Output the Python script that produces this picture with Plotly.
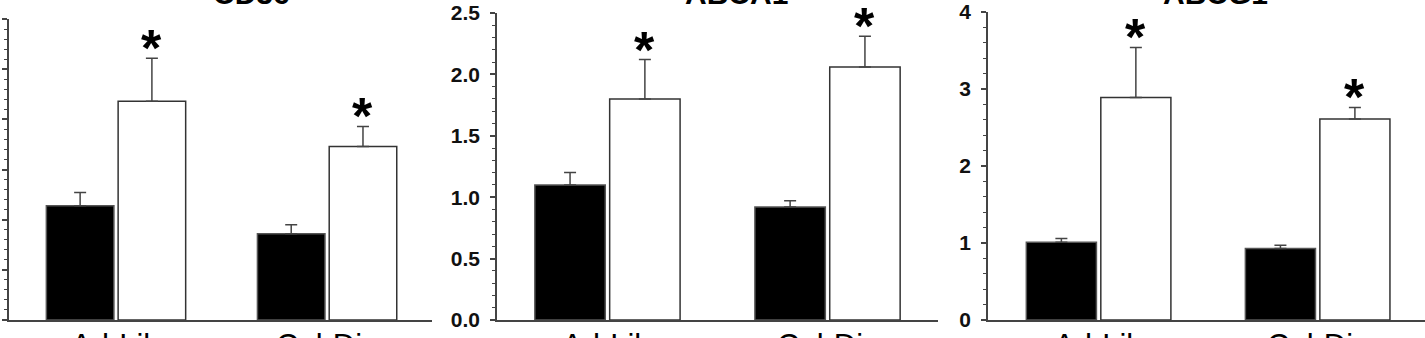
import plotly.graph_objects as go

# ---- data ----
groups = ["Ad-Lib", "Cal-Dis"]
titles = ["CD36", "ABCA1", "ABCG1"]

cd36_black = [1.14, 0.86]
cd36_black_err = [0.13, 0.09]
cd36_white = [2.18, 1.73]
cd36_white_err = [0.43, 0.20]

abca1_black = [1.10, 0.92]
abca1_black_err = [0.10, 0.05]
abca1_white = [1.80, 2.06]
abca1_white_err = [0.32, 0.25]

abcg1_black = [1.01, 0.93]
abcg1_black_err = [0.05, 0.04]
abcg1_white = [2.89, 2.61]
abcg1_white_err = [0.65, 0.15]

significant_white = [[True, True], [True, True], [True, True]]

panels = [
    (cd36_black, cd36_black_err, cd36_white, cd36_white_err),
    (abca1_black, abca1_black_err, abca1_white, abca1_white_err),
    (abcg1_black, abcg1_black_err, abcg1_white, abcg1_white_err),
]

FONT = "Liberation Sans, Arial, sans-serif"
W, H = 1425, 338
x_domains = [[9 / W, 432 / W], [497 / W, 938 / W], [988 / W, 1.0]]
x_ranges = [[-0.507, 1.497], [-0.502, 1.502], [-0.505, 1.49]]
y_ranges = [[0, 3], [0, 2.5], [0, 4]]
y_domains = [[0, 0.977], [0, 0.997], [0, 1.0]]
y_dticks = [0.5, 0.5, 1]
y_minor = [0.1, 0.1, 0.2]
y_formats = [".1f", ".1f", "d"]

xpos = list(range(len(groups)))
fig = go.Figure()
annotations = []

for k, (b, be, w, we) in enumerate(panels):
    xa = "x" if k == 0 else f"x{k+1}"
    ya = "y" if k == 0 else f"y{k+1}"
    fig.add_trace(go.Bar(
        x=xpos, y=b, xaxis=xa, yaxis=ya, offset=-0.33, width=0.32,
        marker=dict(color="black", line=dict(color="#555", width=1.5)),
        error_y=dict(type="data", array=be, arrayminus=[0] * len(be), symmetric=False,
                     color="#444", thickness=1.5, width=6),
        showlegend=False))
    fig.add_trace(go.Bar(
        x=xpos, y=w, xaxis=xa, yaxis=ya, offset=0.01, width=0.32,
        marker=dict(color="white", line=dict(color="#333", width=1.5)),
        error_y=dict(type="data", array=we, arrayminus=[0] * len(we), symmetric=False,
                     color="#444", thickness=1.5, width=6),
        showlegend=False))
    for i in xpos:
        if significant_white[k][i]:
            annotations.append(dict(
                x=i + 0.17, y=w[i] + we[i], xref=xa, yref=ya,
                text="<b>*</b>", showarrow=False, xanchor="center", yanchor="bottom",
                yshift=-21, font=dict(family=FONT, size=52, color="black")))
        # group label under the axis
        annotations.append(dict(
            x=i, y=0, xref=xa, yref=ya, text=groups[i], showarrow=False,
            xanchor="center", yanchor="top", yshift=-6,
            font=dict(family=FONT, size=31, color="black")))
    annotations.append(dict(
        x=(x_domains[k][0] + x_domains[k][1]) / 2 + [0.022, 0.013, 0.006][k], y=1.0,
        xref="paper", yref="paper", text=f"<b>{titles[k]}</b>", showarrow=False,
        xanchor="center", yanchor="bottom", font=dict(family=FONT, size=30, color="black")))

    axkey_x = "xaxis" if k == 0 else f"xaxis{k+1}"
    axkey_y = "yaxis" if k == 0 else f"yaxis{k+1}"
    fig.update_layout({
        axkey_x: dict(domain=x_domains[k], range=x_ranges[k], anchor=ya,
                      showticklabels=False,
                      ticks="", showline=True, linecolor="#444", linewidth=2,
                      showgrid=False, zeroline=False, automargin=False),
        axkey_y: dict(domain=y_domains[k], range=y_ranges[k], anchor=xa,
                      dtick=y_dticks[k], tick0=0, tickformat=y_formats[k],
                      ticks="outside", ticklen=5, tickwidth=1.5, tickcolor="#444",
                      minor=dict(dtick=y_minor[k], ticks="outside", ticklen=3,
                                 tickwidth=1.2, tickcolor="#444"),
                      showline=True, linecolor="#444", linewidth=1.5,
                      showgrid=False, zeroline=False, automargin=False,
                      showticklabels=(k != 0), ticklabelstandoff=6,
                      tickfont=dict(family=FONT, size=21, color="#111", weight="bold")),
    })

fig.update_layout(
    width=W, height=H,
    margin=dict(l=0, r=0, t=12, b=18),
    paper_bgcolor="white", plot_bgcolor="white",
    annotations=annotations,
    barmode="overlay",
)

fig.write_html("out.html")
